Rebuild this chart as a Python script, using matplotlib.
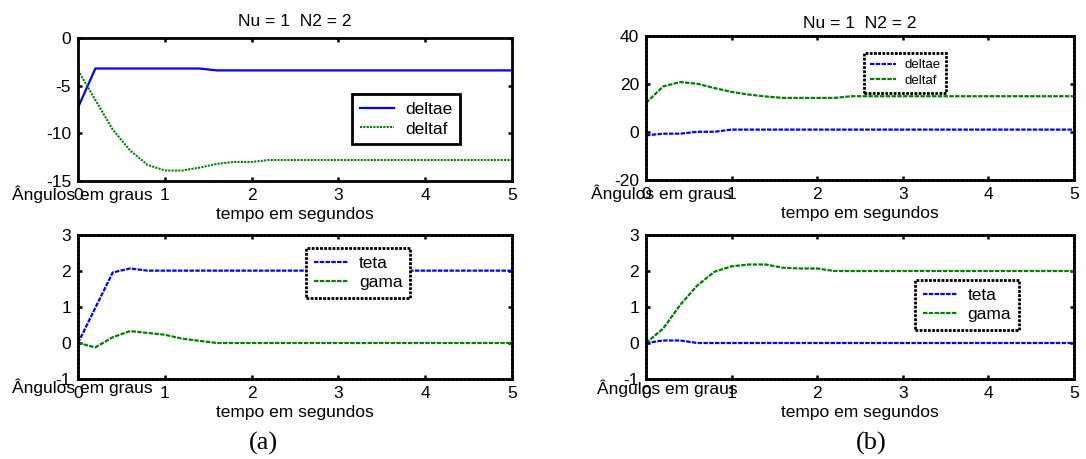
import matplotlib
matplotlib.use("Agg")
import matplotlib.pyplot as plt

plt.rcParams['font.family'] = ['Liberation Sans', 'DejaVu Sans']
plt.rcParams['axes.unicode_minus'] = False

# time axis (s)
t = [0.0, 0.2, 0.4, 0.6, 0.8, 1.0, 1.2, 1.4, 1.6, 1.8, 2.0, 2.2, 2.4, 2.6,
     2.8, 3.0, 3.2, 3.4, 3.6, 3.8, 4.0, 4.2, 4.4, 4.6, 4.8, 5.0]

# (a) top: control surfaces
a_deltae = [-7.3, -3.2, -3.2, -3.2, -3.2, -3.2, -3.2, -3.2, -3.4, -3.4, -3.4, -3.4, -3.4,
            -3.4, -3.4, -3.4, -3.4, -3.4, -3.4, -3.4, -3.4, -3.4, -3.4, -3.4, -3.4, -3.4]
a_deltaf = [-3.4, -6.5, -9.6, -11.8, -13.3, -13.9, -13.9, -13.6, -13.2, -13.0, -13.0, -12.8,
            -12.8, -12.8, -12.8, -12.8, -12.8, -12.8, -12.8, -12.8, -12.8, -12.8, -12.8,
            -12.8, -12.8, -12.8]
# (a) bottom: angles
a_teta = [0.0, 0.98, 1.96, 2.07, 2.01, 2.01, 2.01, 2.01, 2.01, 2.01, 2.01, 2.01, 2.01,
          2.01, 2.01, 2.01, 2.01, 2.01, 2.01, 2.01, 2.01, 2.01, 2.01, 2.01, 2.01, 2.01]
a_gama = [0.0, -0.12, 0.16, 0.33, 0.28, 0.23, 0.12, 0.06, 0.0, 0.0, 0.0, 0.0, 0.0,
          0.0, 0.0, 0.0, 0.0, 0.0, 0.0, 0.0, 0.0, 0.0, 0.0, 0.0, 0.0, 0.0]

# (b) top: control surfaces
b_deltae = [-1.4, -0.7, -0.7, 0.1, 0.1, 1.0, 1.0, 1.0, 1.0, 1.0, 1.0, 1.0, 1.0,
            1.0, 1.0, 1.0, 1.0, 1.0, 1.0, 1.0, 1.0, 1.0, 1.0, 1.0, 1.0, 1.0]
b_deltaf = [12.1, 19.0, 20.8, 20.1, 18.3, 16.7, 15.6, 14.8, 14.2, 14.2, 14.2, 14.2, 14.9,
            14.9, 14.9, 14.9, 14.9, 14.9, 14.9, 14.9, 14.9, 14.9, 14.9, 14.9, 14.9, 14.9]
# (b) bottom: angles
b_teta = [0.0, 0.07, 0.07, 0.0, 0.0, 0.0, 0.0, 0.0, 0.0, 0.0, 0.0, 0.0, 0.0,
          0.0, 0.0, 0.0, 0.0, 0.0, 0.0, 0.0, 0.0, 0.0, 0.0, 0.0, 0.0, 0.0]
b_gama = [0.0, 0.4, 1.06, 1.6, 1.98, 2.13, 2.18, 2.18, 2.09, 2.07, 2.07, 2.0, 2.0,
          2.0, 2.0, 2.0, 2.0, 2.0, 2.0, 2.0, 2.0, 2.0, 2.0, 2.0, 2.0, 2.0]

title_txt = "Nu = 1  N2 = 2"
xlabel_txt = "tempo em segundos"
ylabel_txt = "Ângulos em graus"
xticks = [0, 1, 2, 3, 4, 5]

BLUE = '#0000ff'
GREEN = '#008000'

W, H = 1086, 459
fig = plt.figure(figsize=(W / 100, H / 100), dpi=100)


def axes_px(l, t_, r, b):
    return fig.add_axes([l / W, 1 - b / H, (r - l) / W, (b - t_) / H])


FRAME_DOT = (0, (1.0, 0.5))


def style(ax, dotted_frame, ylim, yticks):
    ax.set_xlim(0, 5)
    ax.set_ylim(*ylim)
    ax.set_xticks(xticks)
    ax.set_yticks(yticks)
    ax.tick_params(direction='in', length=3, width=1.8, top=True, right=True,
                   labelsize=12.5, pad=5)
    for s in ax.spines.values():
        s.set_linewidth(2.0)
        s.set_color('black')
        if dotted_frame:
            s.set_linestyle(FRAME_DOT)
    ax.set_xlabel(xlabel_txt, fontsize=12.5, labelpad=3)


def leg(ax, anchor, fs, dotted):
    lg = ax.legend(loc='upper left', bbox_to_anchor=anchor, borderaxespad=0,
                   fontsize=fs, fancybox=False, frameon=True, handlelength=2.0,
                   handletextpad=0.6, borderpad=0.45, labelspacing=0.25)
    fr = lg.get_frame()
    fr.set_edgecolor('black')
    fr.set_linewidth(2.0)
    fr.set_alpha(1)
    if dotted:
        fr.set_linestyle(FRAME_DOT)
    return lg


dash = (0, (2.0, 0.6))
dot = (0, (1.0, 0.6))

# (a) top
ax1 = axes_px(78, 38, 512, 181)
ax1.plot(t, a_deltae, color=BLUE, lw=1.6, label='deltae')
ax1.plot(t, a_deltaf, color=GREEN, lw=1.5, ls=dot, label='deltaf')
style(ax1, False, (-15, 0), [-15, -10, -5, 0])
ax1.set_title(title_txt, fontsize=12.5, pad=9)
leg(ax1, (0.631, 0.608), 12.5, False)
ax1.text(-0.152, -0.09, ylabel_txt, transform=ax1.transAxes, fontsize=12.5,
         ha='left', va='center', clip_on=False)

# (b) top
ax2 = axes_px(646, 36, 1074, 180)
ax2.plot(t, b_deltae, color=BLUE, lw=1.6, ls=dash, label='deltae')
ax2.plot(t, b_deltaf, color=GREEN, lw=1.6, ls=dash, label='deltaf')
style(ax2, True, (-20, 40), [-20, 0, 20, 40])
ax2.set_title(title_txt, fontsize=12.5, pad=6)
leg(ax2, (0.509, 0.882), 9.5, True)
ax2.text(-0.1285, -0.09, ylabel_txt, transform=ax2.transAxes, fontsize=12.5,
         ha='left', va='center', clip_on=False)

# (a) bottom
ax3 = axes_px(78, 235, 512, 379)
ax3.plot(t, a_teta, color=BLUE, lw=1.6, ls=dash, label='teta')
ax3.plot(t, a_gama, color=GREEN, lw=1.6, ls=dash, label='gama')
style(ax3, True, (-1, 3), [-1, 0, 1, 2, 3])
leg(ax3, (0.525, 0.91), 12.5, True)
ax3.text(-0.152, -0.056, ylabel_txt, transform=ax3.transAxes, fontsize=12.5,
         ha='left', va='center', clip_on=False)

# (b) bottom
ax4 = axes_px(646, 235, 1074, 379)
ax4.plot(t, b_teta, color=BLUE, lw=1.6, ls=dash, label='teta')
ax4.plot(t, b_gama, color=GREEN, lw=1.6, ls=dash, label='gama')
style(ax4, True, (-1, 3), [-1, 0, 1, 2, 3])
leg(ax4, (0.628, 0.6875), 12.5, True)
ax4.text(-0.114, -0.0625, ylabel_txt, transform=ax4.transAxes, fontsize=12.5,
         ha='left', va='center', clip_on=False)

fig.text(263 / W, 1 - 443 / H, "(a)", family='Liberation Serif', fontsize=19,
         ha='center', va='center')
fig.text(871 / W, 1 - 443 / H, "(b)", family='Liberation Serif', fontsize=19,
         ha='center', va='center')

fig.savefig('out.png', dpi=100)
